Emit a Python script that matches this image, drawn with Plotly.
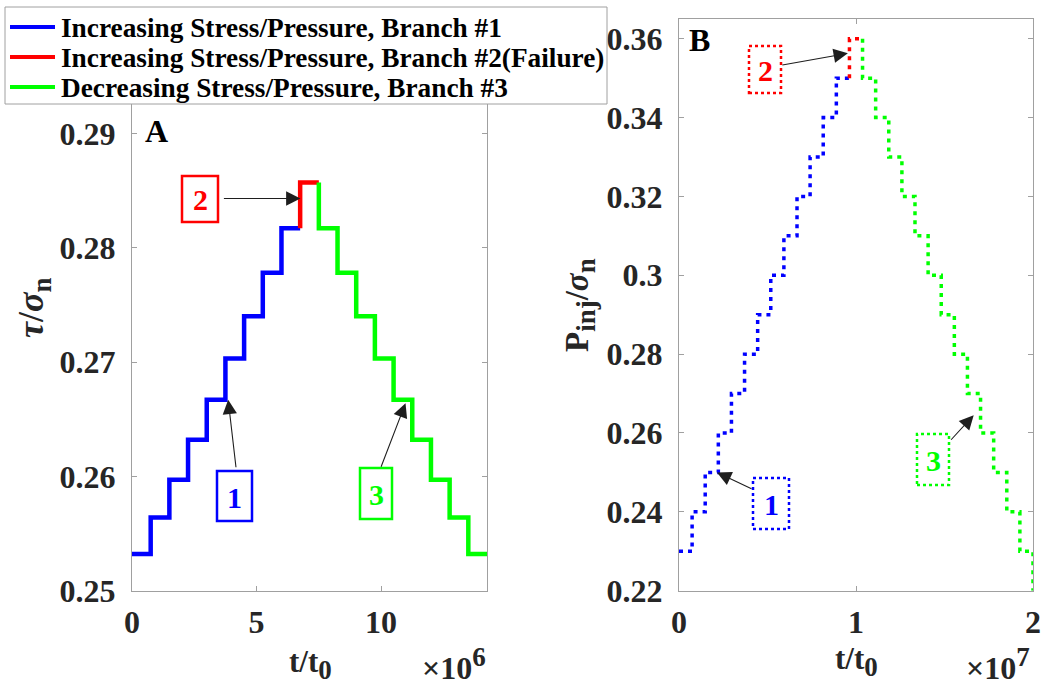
import plotly.graph_objects as go

W, H = 1041, 692

# ---------------- data (panel A) ----------------
tA_blue = [0, 0.75e6, 1.5e6, 2.25e6, 3.0e6, 3.75e6, 4.5e6, 5.25e6, 6.0e6, 6.75e6]
yA_blue = [0.2532, 0.2564, 0.2597, 0.2632, 0.2667, 0.2703, 0.2740, 0.2778, 0.2817, 0.2817]
tA_red = [6.75e6, 6.75e6, 7.5e6]
yA_red = [0.2817, 0.2857, 0.2857]
tA_green = [7.5e6, 7.5e6, 8.25e6, 9.0e6, 9.75e6, 10.5e6, 11.25e6, 12.0e6, 12.75e6, 13.5e6, 14.25e6]
yA_green = [0.2857, 0.2817, 0.2778, 0.2740, 0.2703, 0.2667, 0.2632, 0.2597, 0.2564, 0.2532, 0.2532]

# ---------------- data (panel B) ----------------
tB_blue = [0, 0.741e6, 1.481e6, 2.222e6, 2.963e6, 3.704e6, 4.444e6, 5.185e6, 5.926e6,
           6.667e6, 7.407e6, 8.148e6, 8.889e6, 9.630e6]
yB_blue = [0.23, 0.24, 0.25, 0.26, 0.27, 0.28, 0.29, 0.30, 0.31, 0.32, 0.33, 0.34, 0.35, 0.35]
tB_red = [9.630e6, 9.630e6, 10.370e6]
yB_red = [0.35, 0.36, 0.36]
tB_green = [10.370e6, 10.370e6, 11.111e6, 11.852e6, 12.593e6, 13.333e6, 14.074e6, 14.815e6,
            15.556e6, 16.296e6, 17.037e6, 17.778e6, 18.519e6, 19.259e6, 20.0e6, 20.0e6]
yB_green = [0.36, 0.35, 0.34, 0.33, 0.32, 0.31, 0.30, 0.29, 0.28, 0.27, 0.26, 0.25, 0.24, 0.23, 0.23, 0.22]

legend_names = ["Increasing Stress/Pressure, Branch #1",
                "Increasing Stress/Pressure, Branch #2(Failure)",
                "Decreasing Stress/Pressure, Branch #3"]

xA_ticks = [0, 5e6, 10e6]
xA_labels = ["0", "5", "10"]
yA_ticks = [0.25, 0.26, 0.27, 0.28, 0.29]
yA_labels = ["0.25", "0.26", "0.27", "0.28", "0.29"]
xB_ticks = [0, 1e7, 2e7]
xB_labels = ["0", "1", "2"]
yB_ticks = [0.22, 0.24, 0.26, 0.28, 0.30, 0.32, 0.34, 0.36]
yB_labels = ["0.22", "0.24", "0.26", "0.28", "0.3", "0.32", "0.34", "0.36"]

BLUE, RED, GREEN = "rgb(0,0,255)", "rgb(255,0,0)", "rgb(0,255,0)"
COLORS = [BLUE, RED, GREEN]
FONT = "Liberation Serif, Times New Roman, serif"
AXC = "rgb(160,160,160)"
TXT = "rgb(38,38,38)"


def px(x):
    return x / W


def py(y):
    return 1 - y / H


fig = go.Figure()
lwA = 4.5
for t, y, c, n in [(tA_blue, yA_blue, BLUE, legend_names[0]),
                   (tA_red, yA_red, RED, legend_names[1]),
                   (tA_green, yA_green, GREEN, legend_names[2])]:
    fig.add_trace(go.Scatter(x=t, y=y, mode="lines", line=dict(color=c, width=lwA, shape="hv"),
                             name=n, showlegend=False, xaxis="x", yaxis="y"))
dashB = "4px,5px"
lwB = 3.5
for t, y, c in [(tB_blue, yB_blue, BLUE), (tB_red, yB_red, RED), (tB_green, yB_green, GREEN)]:
    fig.add_trace(go.Scatter(x=t, y=y, mode="lines", showlegend=False,
                             line=dict(color=c, width=lwB, shape="hv", dash=dashB), xaxis="x2", yaxis="y2"))

tickfont = dict(family=FONT, size=32, color=TXT, weight="bold")
common = dict(showgrid=False, zeroline=False, showline=True, linecolor=AXC, linewidth=1,
              mirror="ticks", ticks="inside", ticklen=5, tickcolor=AXC, tickfont=tickfont)

yd = [py(590.7), py(19)]
fig.update_layout(
    width=W, height=H, autosize=False, margin=dict(l=0, r=0, t=0, b=0, pad=0),
    paper_bgcolor="white", plot_bgcolor="white",
    xaxis=dict(domain=[px(132), px(487)], range=[0, 14.25e6], tickvals=xA_ticks, ticktext=xA_labels,
               anchor="y", ticklabelstandoff=3, automargin=False, **common),
    yaxis=dict(domain=yd, range=[0.25, 0.30], tickvals=yA_ticks, ticktext=yA_labels,
               anchor="x", ticklabelstandoff=9, automargin=False, **common),
    xaxis2=dict(domain=[px(679), px(1033)], range=[0, 2e7], tickvals=xB_ticks, ticktext=xB_labels,
                anchor="y2", ticklabelstandoff=3, automargin=False, **common),
    yaxis2=dict(domain=yd, range=[0.22, 0.365], tickvals=yB_ticks, ticktext=yB_labels,
                anchor="x2", ticklabelstandoff=9, automargin=False, **common),
    showlegend=False,
)

annotations = []
shapes = []


def label(x, y, text, size=32, color="black", angle=0, xanchor="center"):
    annotations.append(dict(x=px(x), y=py(y), xref="paper", yref="paper", text=text, showarrow=False,
                            textangle=angle, xanchor=xanchor, yanchor="middle",
                            font=dict(family=FONT, size=size, color=color, weight="bold")))


# ---- legend (drawn as a box above the axes) ----
shapes.append(dict(type="rect", xref="paper", yref="paper", layer="above",
                   x0=px(5), x1=px(607), y0=py(104), y1=py(7),
                   line=dict(color=AXC, width=1), fillcolor="white"))
legend_rows = [27, 57, 87]
for rowy, c, name in zip(legend_rows, COLORS, legend_names):
    shapes.append(dict(type="line", xref="paper", yref="paper", layer="above",
                       x0=px(10), x1=px(55), y0=py(rowy), y1=py(rowy),
                       line=dict(color=c, width=4)))
    label(59, rowy + 1, name, size=27.3, color="black", xanchor="left")

# panel letters
label(156, 131, "A")
label(699, 40, "B")

# axis titles
SUB = "<span style='font-size:27px'>{}</span>"
label(34, 308, "<i>τ</i>/<i>σ</i><sub>" + SUB.format("n") + "</sub>", size=36, color=TXT, angle=-90)
label(580, 305, "P<sub>" + SUB.format("inj") + "</sub>/<i>σ</i><sub>" + SUB.format("n") + "</sub>",
      size=33, color=TXT, angle=-90)
label(310, 664, "t/t<sub>" + SUB.format("0") + "</sub>", size=31, color=TXT)
label(856, 661, "t/t<sub>" + SUB.format("0") + "</sub>", size=31, color=TXT)
SUP = "<span style='font-size:27px'>{}</span>"
label(488, 664, "×10<sup>" + SUP.format("6") + "</sup>", size=32, color=TXT, xanchor="right")
label(1032, 664, "×10<sup>" + SUP.format("7") + "</sup>", size=32, color=TXT, xanchor="right")

# numbered boxes
boxes = [
    (182, 176, 218, 222, "2", RED, "solid"),
    (217, 471, 252, 521, "1", BLUE, "solid"),
    (360, 468, 392, 519, "3", GREEN, "solid"),
    (749, 46, 781, 93, "2", RED, "dot"),
    (753, 478, 789, 529, "1", BLUE, "dot"),
    (917, 434, 949, 485, "3", GREEN, "dot"),
]
for x0, y0, x1, y1, t, c, d in boxes:
    shapes.append(dict(type="rect", xref="paper", yref="paper", x0=px(x0), x1=px(x1), y0=py(y1), y1=py(y0),
                       line=dict(color=c, width=2.5, dash=d), fillcolor="rgba(0,0,0,0)"))
    label((x0 + x1) / 2, (y0 + y1) / 2 + 1, t, size=30, color=c)

# arrows (head in data coordinates, tail as pixel offset)
arrows = [
    ("x", "y", 6.76e6, 0.2843, -78, 0),
    ("x", "y", 3.86e6, 0.2667, 8, 69),
    ("x", "y", 10.98e6, 0.2664, -25, 65),
    ("x2", "y2", 0.954e7, 0.3563, -67, 12),
    ("x2", "y2", 0.2145e7, 0.2500, 36, 17),
    ("x2", "y2", 1.665e7, 0.2645, -24, 26),
]
for xr, yr, x, y, ax, ay in arrows:
    annotations.append(dict(x=x, y=y, xref=xr, yref=yr, ax=ax, ay=ay, axref="pixel", ayref="pixel",
                            text="", showarrow=True, arrowhead=2, arrowsize=2.6, arrowwidth=1.1,
                            arrowcolor="rgb(30,30,30)"))

fig.update_layout(annotations=annotations, shapes=shapes)

# pin the figure to the top-left corner of the page so it fills the window exactly
post = """
var gd = document.getElementById('{plot_id}');
document.documentElement.style.cssText = 'margin:0;padding:0;overflow:hidden;width:1041px;height:692px;';
document.body.style.cssText = 'margin:0;padding:0;overflow:hidden;width:1041px;height:692px;';
gd.style.cssText = 'position:fixed;left:0;top:0;width:1041px;height:692px;margin:0;padding:0;';
Plotly.relayout(gd, {width: 1041, height: 692, autosize: false});
"""
fig.write_html("out.html", post_script=post)
